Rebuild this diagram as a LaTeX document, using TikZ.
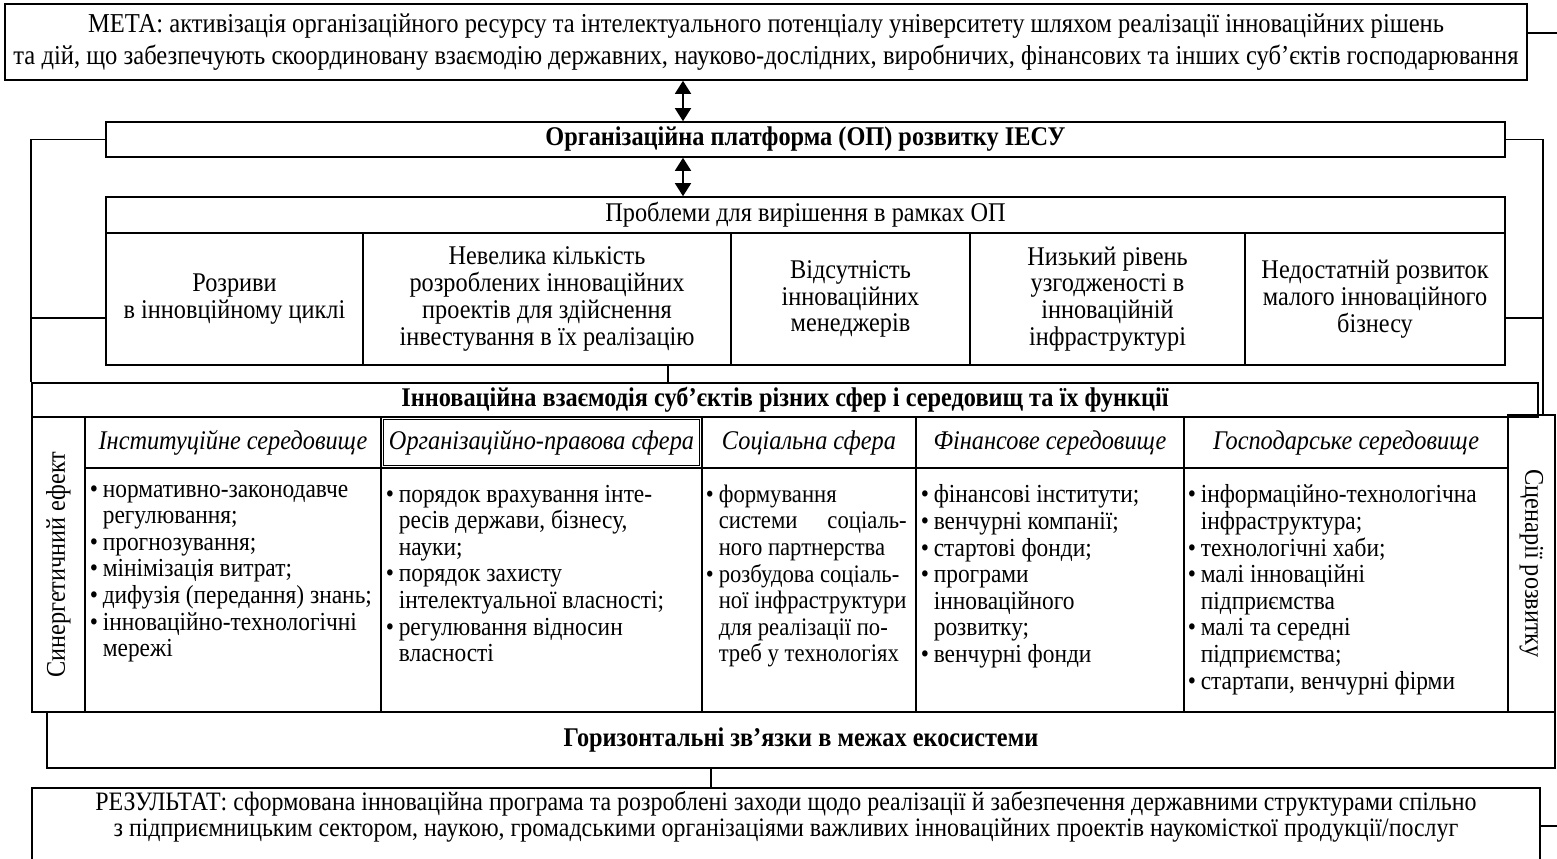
\documentclass[tikz,border=0pt]{standalone}
\usepackage{fontspec}
\setmainfont{Liberation Serif}[FakeStretch=0.9]
\usetikzlibrary{arrows.meta}
\newcommand{\bul}{\makebox[6.5pt][l]{\textbullet}}
\newcommand{\bulind}{\hspace*{6.5pt}}

\begin{document}
\begin{tikzpicture}[x=0.5pt, y=-0.5pt, line width=0.8pt,
		every node/.style={font=\fontsize{13.5pt}{13.4pt}\selectfont, inner sep=0pt},
		cellbox/.style={draw, rectangle, align=center},
		headbox/.style={cellbox, font=\fontsize{13.5pt}{13.4pt}\selectfont\itshape},
		titlebox/.style={cellbox, font=\fontsize{13.5pt}{13.4pt}\selectfont\bfseries},
		itemlist/.style={align=left, anchor=north west, font=\fontsize{13pt}{13.3pt}\selectfont},
		twoway/.style={{Triangle[length=6.5pt,width=8pt]}-{Triangle[length=6.5pt,width=8pt]}}]

		\useasboundingbox (0,0) rectangle (1557,858);
		\clip (0,0) rectangle (1557,858);

		\node[cellbox, minimum width=761pt, minimum height=38pt, font=\fontsize{13.65pt}{13.4pt}\selectfont] (meta) at (766,42) {МЕТА: активізація організаційного ресурсу та інтелектуального потенціалу університету шляхом реалізації інноваційних рішень\\[3pt]та дій, що забезпечують скоординовану взаємодію державних, науково-дослідних, виробничих, фінансових та інших суб’єктів господарювання};
		\node[titlebox, minimum width=699.5pt, minimum height=17.5pt] (op) at (805.5,139.5) {Організаційна платформа (ОП) розвитку ІЕСУ};
		\node[cellbox, minimum width=699.5pt, minimum height=18pt] (prob) at (805.5,215) {Проблеми для вирішення в рамках ОП};

		\node[cellbox, minimum width=128.5pt, minimum height=66pt] (p1) at (234.5,299) {Розриви\\в інновційному циклі};
		\node[cellbox, minimum width=184pt, minimum height=66pt] (p2) at (547,299) {Невелика кількість\\розроблених інноваційних\\проектів для здійснення\\інвестування в їх реалізацію};
		\node[cellbox, minimum width=119.5pt, minimum height=66pt] (p3) at (850.5,299) {Відсутність\\інноваційних\\менеджерів};
		\node[cellbox, minimum width=137.5pt, minimum height=66pt] (p4) at (1107.5,299) {Низький рівень\\узгодженості в\\інноваційній\\інфраструктурі};
		\node[cellbox, minimum width=130pt, minimum height=66pt] (p5) at (1375,299) {Недостатній розвиток\\малого інноваційного\\бізнесу};

		\node[titlebox, minimum width=753pt, minimum height=17pt] (inter) at (785,400) {Інноваційна взаємодія суб’єктів різних сфер і середовищ та їх функції};

		\node[cellbox, rotate=90, minimum width=147.5pt, minimum height=26.5pt] (syn) at (58.5,564.5) {Синергетичний ефект};
		\node[cellbox, rotate=-90, minimum width=148.5pt, minimum height=23.5pt] (scen) at (1531.5,563.5) {Сценарії розвитку};

		\node[headbox, minimum width=148pt, minimum height=25.5pt] (h1) at (233,442.5) {Інституційне середовище};
		\node[headbox, double, line width=0.4pt, double distance=0.9pt, minimum width=159pt, minimum height=24pt] (h2) at (541.5,442.5) {Організаційно-правова сфера};
		\node[headbox, minimum width=107pt, minimum height=25.5pt] (h3) at (809,442.5) {Соціальна сфера};
		\node[headbox, minimum width=134pt, minimum height=25.5pt] (h4) at (1050,442.5) {Фінансове середовище};
		\node[headbox, minimum width=162pt, minimum height=25.5pt] (h5) at (1346,442.5) {Господарське середовище};

		\node[cellbox, minimum width=148pt, minimum height=122pt] (b1) at (233,590) {};
		\node[cellbox, minimum width=160.5pt, minimum height=122pt] (b2) at (541.5,590) {};
		\node[cellbox, minimum width=107pt, minimum height=122pt] (b3) at (809,590) {};
		\node[cellbox, minimum width=134pt, minimum height=122pt] (b4) at (1050,590) {};
		\node[cellbox, minimum width=162pt, minimum height=122pt] (b5) at (1346,590) {};

		\node[itemlist] (t1) at (89,484) {\bul нормативно-законодавче\\\bulind регулювання;\\\bul прогнозування;\\\bul мінімізація витрат;\\\bul дифузія (передання) знань;\\\bul інноваційно-технологічні\\\bulind мережі};
		\node[itemlist] (t2) at (385,484) {\bul порядок врахування інте-\\\bulind ресів держави, бізнесу,\\\bulind науки;\\\bul порядок захисту\\\bulind інтелектуальної власності;\\\bul регулювання відносин\\\bulind власності};
		\node[itemlist, font=\fontsize{12.6pt}{13.3pt}\selectfont] (t3) at (705,484) {\bul формування\\\bulind\makebox[94pt][s]{системи соціаль-}\\\bulind ного партнерства\\\bul розбудова соціаль-\\\bulind ної інфраструктури\\\bulind для реалізації по-\\\bulind треб у технологіях};
		\node[itemlist] (t4) at (920,484) {\bul фінансові інститути;\\\bul венчурні компанії;\\\bul стартові фонди;\\\bul програми\\\bulind інноваційного\\\bulind розвитку;\\\bul венчурні фонди};
		\node[itemlist] (t5) at (1187,484) {\bul інформаційно-технологічна\\\bulind інфраструктура;\\\bul технологічні хаби;\\\bul малі інноваційні\\\bulind підприємства\\\bul малі та середні\\\bulind підприємства;\\\bul стартапи, венчурні фірми};

		\node[titlebox, minimum width=754pt, minimum height=28pt] (horiz) at (801,740) {Горизонтальні зв’язки в межах екосистеми};
		\node[cellbox, minimum width=754pt, minimum height=50pt, anchor=north] (res) at (786,787) {};
		\node[align=center, font=\fontsize{13.3pt}{13.2pt}\selectfont] (restxt) at (786,817) {РЕЗУЛЬТАТ: сформована інноваційна програма та розроблені заходи щодо реалізації й забезпечення державними структурами спільно\\з підприємницьким сектором, наукою, громадськими організаціями важливих інноваційних проектів наукомісткої продукції/послуг};

		\coordinate (a) at (683,0);
		\coordinate (b) at (668,0);
		\coordinate (c) at (711,0);
		\coordinate (lp) at (32,318);
		\coordinate (rp) at (1543,318);
		\coordinate (m) at (1557,33);
		\coordinate (n) at (1557,826);

		\draw[twoway] (a |- meta.south) -- (a |- op.north);
		\draw[twoway] (a |- op.south) -- (a |- prob.north);
		\draw (b |- p2.south) -- (b |- inter.north);
		\draw (c |- horiz.south) -- (c |- res.north);
		\draw (op.west) -| (inter.north west);
		\draw (lp) -- (lp -| p1.west);
		\draw (op.east) -| (rp |- scen.west);
		\draw (p5.east |- rp) -- (rp);
		\draw (m -| meta.east) -- (m);
		\draw (n -| res.east) -- (n);
	\end{tikzpicture}
\end{document}
